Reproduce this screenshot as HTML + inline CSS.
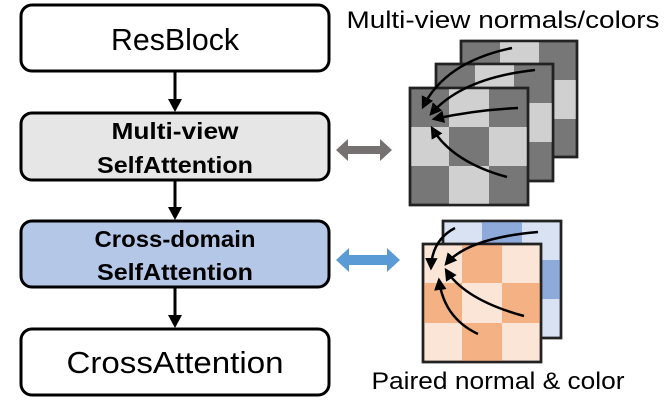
<!DOCTYPE html>
<html><head><style>body{margin:0;background:#fff}svg{display:block}</style></head><body>
<svg width="665" height="404" viewBox="0 0 665 404" xmlns="http://www.w3.org/2000/svg">
<defs>
<marker id="ah" viewBox="0 0 10 10" refX="8" refY="5" markerWidth="5" markerHeight="5" orient="auto"><path d="M0,0 L10,5 L0,10 z" fill="#000"/></marker>
</defs>
<g stroke="#000" stroke-width="3">
<rect x="21" y="5" width="308" height="66" rx="11" fill="#fff"/>
<rect x="21" y="113" width="308" height="67" rx="11" fill="#e7e6e6"/>
<rect x="21" y="221" width="308" height="66" rx="11" fill="#b4c7e7"/>
<rect x="21" y="329" width="308" height="66" rx="11" fill="#fff"/>
</g>
<g font-family="Liberation Sans, sans-serif" text-anchor="middle" fill="#000" lengthAdjust="spacingAndGlyphs">
<text x="175" y="50" font-size="31" textLength="128" lengthAdjust="spacingAndGlyphs">ResBlock</text>
<text x="175" y="139" font-size="23" font-weight="bold" textLength="127" lengthAdjust="spacingAndGlyphs">Multi-view</text>
<text x="175" y="173" font-size="23" font-weight="bold" textLength="156" lengthAdjust="spacingAndGlyphs">SelfAttention</text>
<text x="175" y="247" font-size="23" font-weight="bold" textLength="161" lengthAdjust="spacingAndGlyphs">Cross-domain</text>
<text x="175" y="280" font-size="23" font-weight="bold" textLength="156" lengthAdjust="spacingAndGlyphs">SelfAttention</text>
<text x="175" y="373" font-size="31" textLength="217" lengthAdjust="spacingAndGlyphs">CrossAttention</text>
<text x="503" y="28" font-size="24" textLength="313" lengthAdjust="spacingAndGlyphs">Multi-view normals/colors</text>
<text x="498" y="389" font-size="24" textLength="253" lengthAdjust="spacingAndGlyphs">Paired normal &amp; color</text>
</g>
<g stroke="#000" stroke-width="3">
<line x1="175" y1="72" x2="175" y2="100"/><line x1="175" y1="180" x2="175" y2="208"/><line x1="175" y1="288" x2="175" y2="316"/>
</g>
<g fill="#000">
<path d="M168,99 L182,99 L175,112 z"/><path d="M168,207 L182,207 L175,220 z"/><path d="M168,315 L182,315 L175,328 z"/>
</g>
<path d="M336,150 L348,139 L348,146 L380,146 L380,139 L392,150 L380,161 L380,154 L348,154 L348,161 z" fill="#767171"/>
<path d="M336,260 L349,248 L349,255 L387,255 L387,248 L400,260 L387,272 L387,265 L349,265 L349,272 z" fill="#5b9bd5"/>
<g stroke="#222" stroke-width="2.5">
<g transform="translate(461,41)"><rect width="116" height="116" fill="#777"/><rect x="39" y="0" width="39" height="39" fill="#d0d0d0" stroke="none"/><rect x="78" y="39" width="38" height="39" fill="#d0d0d0" stroke="none"/><rect x="0" y="39" width="39" height="39" fill="#d0d0d0" stroke="none"/><rect x="39" y="78" width="39" height="38" fill="#d0d0d0" stroke="none"/><rect width="116" height="116" fill="none"/></g>
<g transform="translate(436,64)"><rect width="117" height="117" fill="#777"/><rect x="39" y="0" width="39" height="39" fill="#d0d0d0" stroke="none"/><rect x="78" y="39" width="39" height="39" fill="#d0d0d0" stroke="none"/><rect x="0" y="39" width="39" height="39" fill="#d0d0d0" stroke="none"/><rect x="39" y="78" width="39" height="39" fill="#d0d0d0" stroke="none"/><rect width="117" height="117" fill="none"/></g>
<g transform="translate(410,88)"><rect width="118" height="117" fill="#777"/><rect x="39" y="0" width="40" height="39" fill="#d0d0d0" stroke="none"/><rect x="79" y="39" width="39" height="39" fill="#d0d0d0" stroke="none"/><rect x="0" y="39" width="39" height="39" fill="#d0d0d0" stroke="none"/><rect x="39" y="78" width="40" height="39" fill="#d0d0d0" stroke="none"/><rect width="118" height="117" fill="none"/></g>
</g>
<g stroke="#222" stroke-width="2.5">
<g transform="translate(443,221)"><rect width="118" height="117" fill="#d9e2f3"/><rect x="39" y="0" width="40" height="39" fill="#8eaadb" stroke="none"/><rect x="79" y="39" width="39" height="39" fill="#8eaadb" stroke="none"/><rect width="118" height="117" fill="none"/></g>
<g transform="translate(423,244)"><rect width="118" height="118" fill="#fbe5d6"/><rect x="39" y="0" width="40" height="39" fill="#f4b183" stroke="none"/><rect x="0" y="39" width="39" height="40" fill="#f4b183" stroke="none"/><rect x="79" y="39" width="39" height="40" fill="#f4b183" stroke="none"/><rect x="39" y="79" width="40" height="39" fill="#f4b183" stroke="none"/><rect width="118" height="118" fill="none"/></g>
</g>
<g stroke="#000" stroke-width="2.5" fill="none" marker-end="url(#ah)">
<path d="M512,48 Q445,62 423,107"/>
<path d="M535,70 Q462,78 431,114"/>
<path d="M518,108 Q475,110 434,119"/>
<path d="M507,177 Q452,162 432,128"/>
<path d="M455,228 Q432,240 431,268"/>
<path d="M538,232 Q468,238 446,264"/>
<path d="M524,316 Q465,300 446,270"/>
<path d="M478,334 Q444,318 439,280"/>
</g>
</svg>
</body></html>
